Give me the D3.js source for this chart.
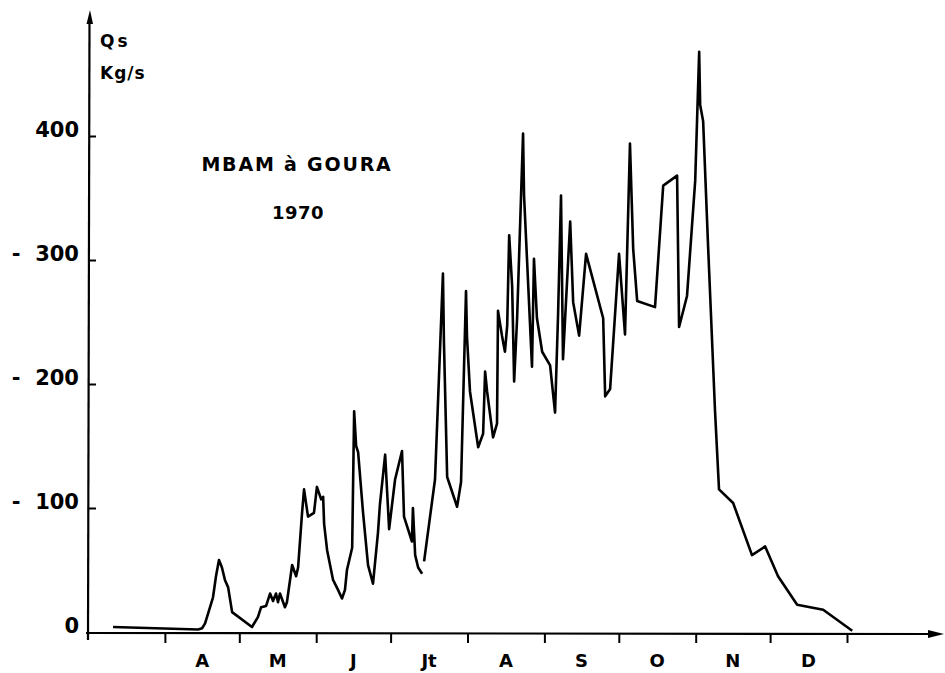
<!DOCTYPE html>
<html><head><meta charset="utf-8">
<script src="https://cdn.jsdelivr.net/npm/d3@7"></script>
<style>
html,body{margin:0;padding:0;background:#fff;}
svg text{font-family:"DejaVu Sans",sans-serif;font-weight:bold;fill:#000;white-space:pre;}
</style></head>
<body><svg id="c" width="945" height="673"></svg>
<script>
// Days counted from 1 March 1970; null marks a break in the record
const days = [10.1,44.4,46,47.2,50.4,51.6,52.8,54,55.2,56.5,58.1,66.1,68.5,69.8,71.8,73.4,74.6,75.8,76.6,77.4,79.4,80.2,82.3,83.9,84.7,86.3,87.1,88.7,91.1,92.3,94,94.8,95.2,96.4,98.8,100.8,102.4,103.6,104.4,106.5,107.3,108.1,108.9,110.9,112.9,114.9,116.9,117.7,119.8,121.4,123.8,126.6,127.4,130.6,131,131.9,133.1,134.7,135.1,
  135.5,139.9,143.1,143.5,144.8,148.8,150.4,152.4,152.8,154,157.3,159.3,160.1,160.9,163.3,164.9,165.3,166.9,168.1,169,169.8,171,171.8,173,175.4,175.8,179,179.8,181,183.1,186.3,188.3,189.5,190.7,191.5,194.4,195.6,198,200.8,207.7,208.5,210.5,214.1,216.5,218.5,219.8,221.4,228.6,231.9,237.5,238.3,241.5,244.8,246.4,246.8,248,250,252.8,254.4,260.1,267.7,273,278.2,285.9,296.4,308.1];
const qs = [4,2,3,7,28,45,58,52,42,36,16,4,12,20,21,31,25,31,24,31,20,24,54,45,52,96,115,93,96,117,107,109,87,66,42,34,27,34,50,68,178,150,145,96,54,39,80,103,143,83,123,146,93,73,100,62,52,47,null,
  57,123,289,234,125,101,121,275,238,194,149,160,210,194,157,168,259,239,226,247,320,279,202,253,402,352,214,301,253,226,215,177,255,352,220,331,266,239,305,253,190,196,305,240,394,309,267,262,360,368,246,271,364,468,425,412,311,178,115,104,62,69,45,22,18,1];
// Month boundaries (days from 1 March) and month labels
const monthStarts = [31,61,92,122,153,184,214,245,275,306];
const monthLabels = ["A","M","J","Jt","A","S","O","N","D"];
const yTicks = [0,100,200,300,400];
const yTickLabels = ["0","-  100","-  200","-  300","400"];

const svg = d3.select("#c");
const x = d3.scaleLinear().domain([0,306]).range([88,847]);
const y = d3.scaleLinear().domain([0,400]).range([632,136]);

// X axis line with arrow
svg.append("line").attr("x1",86).attr("x2",932).attr("y1",633).attr("y2",634)
  .attr("stroke","#000").attr("stroke-width",2.2);
svg.append("path").attr("d","M944,634 L928,630 L928,638 Z").attr("fill","#000");
// Y axis line with arrow
svg.append("line").attr("x1",88).attr("x2",89.5).attr("y1",640).attr("y2",20)
  .attr("stroke","#000").attr("stroke-width",2.2);
svg.append("path").attr("d","M90,10 L86.5,24 L93,24 Z").attr("fill","#000");

// X ticks (downwards)
const xAxis = d3.axisBottom(x).tickValues(monthStarts).tickSizeInner(10).tickSizeOuter(0).tickFormat("");
const gx = svg.append("g").attr("transform","translate(0,633)").call(xAxis);
gx.select(".domain").remove();
gx.selectAll(".tick line").attr("stroke","#000").attr("stroke-width",2);

// Y ticks (to the right)
const yAxis = d3.axisLeft(y).tickValues(yTicks.slice(1)).tickSizeInner(-7).tickSizeOuter(0).tickFormat("");
const gy = svg.append("g").attr("transform","translate(89,0)").call(yAxis);
gy.select(".domain").remove();
gy.selectAll(".tick line").attr("stroke","#000").attr("stroke-width",2);

// Y tick labels
svg.append("g").selectAll("text").data(yTicks).join("text")
  .attr("x",79).attr("y",d=>y(d)-5)
  .attr("text-anchor","end").attr("dominant-baseline","middle")
  .attr("font-size",21)
  .text((d,i)=>yTickLabels[i]);

// Month labels centred in each month
svg.append("g").selectAll("text").data(monthLabels).join("text")
  .attr("x",(d,i)=>x((monthStarts[i]+monthStarts[i+1])/2))
  .attr("y",662).attr("text-anchor","middle").attr("dominant-baseline","middle")
  .attr("font-size",18)
  .text(d=>d);

// Axis title
svg.append("text").attr("x",100).attr("y",47).attr("font-size",17).attr("letter-spacing",3).text("Qs");
svg.append("text").attr("x",100).attr("y",79).attr("font-size",17).attr("letter-spacing",1).text("Kg/s");

// Chart title
svg.append("text").attr("x",297).attr("y",171).attr("text-anchor","middle")
  .attr("font-size",19).attr("letter-spacing",1.8).text("MBAM à GOURA");
svg.append("text").attr("x",298).attr("y",219).attr("text-anchor","middle")
  .attr("font-size",18).attr("letter-spacing",0.5).text("1970");

// Data line
const pts = days.map((d,i)=>[d,qs[i]]);
const line = d3.line().defined(d=>d[1]!=null).x(d=>x(d[0])).y(d=>y(d[1]));
svg.append("path").datum(pts).attr("d",line)
  .attr("fill","none").attr("stroke","#000").attr("stroke-width",2.6)
  .attr("stroke-linejoin","round");
</script></body></html>
